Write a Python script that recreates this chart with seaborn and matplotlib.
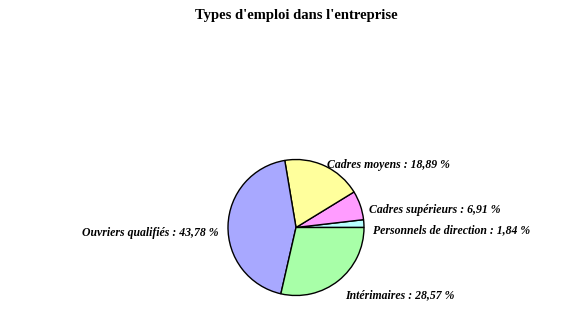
import matplotlib
matplotlib.use("Agg")
import matplotlib.pyplot as plt
import seaborn as sns

sns.set_theme(style="white")
plt.rcParams["font.family"] = ["Liberation Serif", "DejaVu Serif"]

# Employment categories and their shares (%)
categories = [
    "Personnels de direction",
    "Cadres supérieurs",
    "Cadres moyens",
    "Ouvriers qualifiés",
    "Intérimaires",
]
shares = [1.84, 6.91, 18.89, 43.78, 28.57]
colors = ["#b8ffff", "#ff9cff", "#ffff9c", "#a8a8ff", "#a8ffa8"]

W, H = 566, 318
R = 68.0            # pie radius in pixels
CX, CY = 296.0, 227.5  # pie centre in pixels (from top-left)

fig = plt.figure(figsize=(W / 100, H / 100), dpi=100)
ax = fig.add_axes([0, 0, 1, 1])

ax.pie(
    shares,
    colors=colors,
    startangle=0,
    counterclock=True,
    radius=1.0,
    center=(0, 0),
    wedgeprops=dict(edgecolor="black", linewidth=1.0),
    frame=True,
)
ax.set_xlim(-CX / R, (W - CX) / R)
ax.set_ylim(-(H - CY) / R, CY / R)
ax.set_aspect("equal")
ax.axis("off")


def px(x, y):
    """Pixel position (from top-left) to data coordinates."""
    return (x - CX) / R, (CY - y) / R


# Label anchor points (pixels) and alignment for each slice
label_pos = [
    (373, 230, "left"),
    (369, 210, "left"),
    (327, 165, "left"),
    (219, 233, "right"),
    (345, 295, "left"),
]
for name, val, (lx, ly, ha) in zip(categories, shares, label_pos):
    txt = f"{name} : {val:.2f} %".replace(".", ",")
    x, y = px(lx, ly)
    ax.text(x, y, txt, ha=ha, va="center", fontsize=8.45,
            fontweight="bold", fontstyle="italic", color="black")

tx, ty = px(296, 15)
ax.text(tx, ty, "Types d'emploi dans l'entreprise", ha="center", va="center",
        fontsize=10.5, fontweight="bold", color="black")

fig.savefig("out.png", dpi=100, facecolor="white")
